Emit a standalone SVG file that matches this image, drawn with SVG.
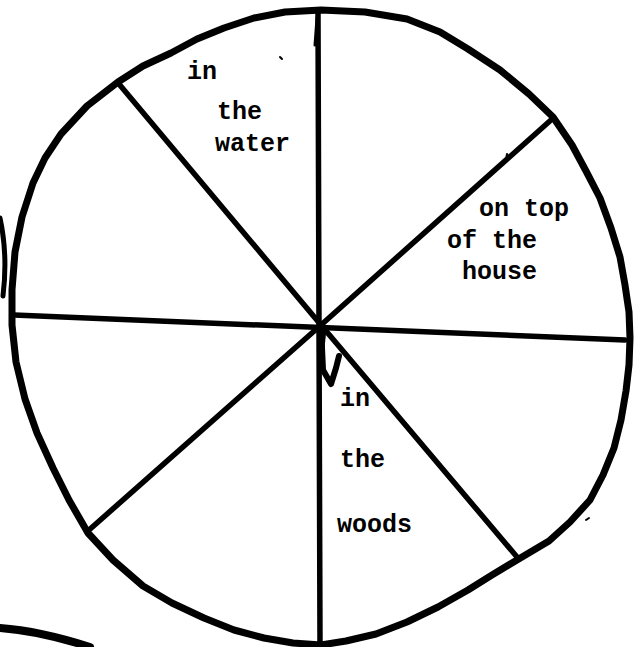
<svg xmlns="http://www.w3.org/2000/svg" width="634" height="647" viewBox="0 0 634 647">
<style>
.ink{fill:none;stroke:#000;stroke-linecap:round;stroke-linejoin:round}
.rim{stroke-width:7}
.spoke{stroke-width:5.5}
.lbl{font-family:"Liberation Mono","Courier New",monospace;font-size:25px;font-weight:bold;fill:#000}
</style>
<rect width="634" height="647" fill="#fff"/>
<g id="wheel">
<path class="ink rim" d="M321 10 L365 12 L407 19 L440 32 L468 49 L500 70 L529 94 L553 117 L572 145 L586 171 L600 198 L611 228 L620 257 L625 285 L629 312 L630 338 L629 365 L626 391 L621 420 L614 448 L603 475 L590 500 L570 522 L549 541 L517 560 L492 575 L468 590 L438 607 L407 622 L376 634 L346 641 L321 645 L293 643 L264 638 L234 630 L204 618 L172 603 L143 586 L113 560 L88 533 L69 500 L53 468 L37 433 L25 399 L16 362 L12 325 L12 290 L15 252 L22 217 L33 183 L45 158 L61 134 L87 106 L118 82 L143 66 L171 53 L197 39 L224 28 L254 18 L285 12 Z"/>
</g>
<g id="connectors">
<line class="ink spoke" x1="318" y1="13" x2="320" y2="643"/>
<line class="ink spoke" x1="14" y1="315" x2="625" y2="340"/>
<line class="ink spoke" x1="119" y1="84" x2="321" y2="325"/>
<line class="ink spoke" x1="551" y1="120" x2="321" y2="325"/>
<line class="ink spoke" x1="89" y1="530" x2="321" y2="325"/>
<line class="ink spoke" x1="517" y1="557" x2="321" y2="325"/>
<path class="ink" stroke-width="3" d="M317 18 L315 45"/>
<path class="ink" stroke-width="6" d="M321 326 L322 348 L323 370 L331 384 L336 368 L339 356"/>
<path d="M319 326 L326 334 L324 352 L319 350 Z" fill="#000"/>
</g>
<g id="fragments">
<path class="ink" stroke-width="5" d="M0 218 Q8 255 3 296"/>
<path class="ink" stroke-width="8" stroke-linecap="butt" d="M0 628 Q40 631 90 647"/>
<path class="ink" stroke-width="2" d="M280 57 L282 59"/>
<path class="ink" stroke-width="2" d="M586 520 L589 518"/>
<path class="ink" stroke-width="2" d="M507 154 L506 160"/>
</g>
<g id="label-water">
<text class="lbl" x="187" y="79">in</text>
<text class="lbl" x="217" y="119">the</text>
<text class="lbl" x="215" y="151">water</text>
</g>
<g id="label-house">
<text class="lbl" x="479" y="216">on top</text>
<text class="lbl" x="447" y="248">of the</text>
<text class="lbl" x="462" y="279">house</text>
</g>
<g id="label-woods">
<text class="lbl" x="340" y="406">in</text>
<text class="lbl" x="340" y="467">the</text>
<text class="lbl" x="337" y="532">woods</text>
</g>
</svg>
